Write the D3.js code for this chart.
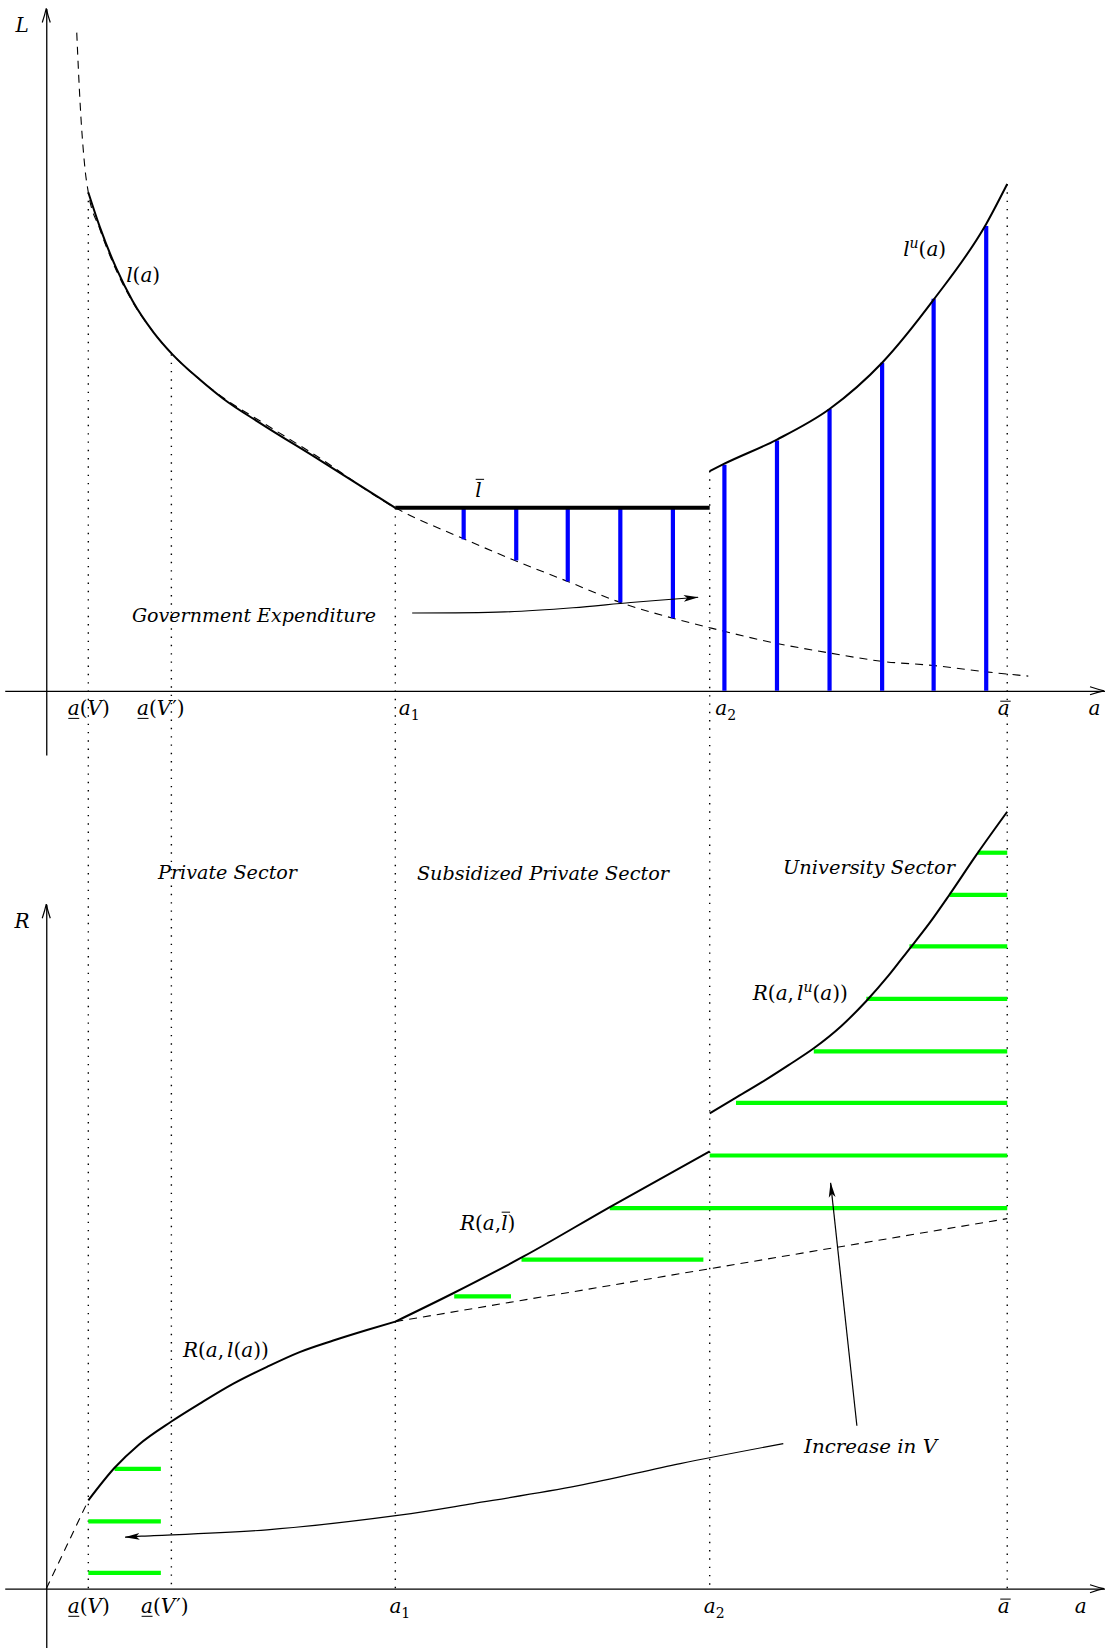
<!DOCTYPE html>
<html>
<head>
<meta charset="utf-8">
<script src="https://cdn.jsdelivr.net/npm/d3@7"></script>
<style>
body { margin: 0; background: #fff; }
svg { display: block; }
</style>
</head>
<body>
<div class="chart"></div>
<script>
// ---- data (a on the horizontal axis, L / R on the vertical axes) ----
var tickA = [0.40, 1.19, 3.32, 6.31, 9.14];       // a(V), a(V'), a1, a2, abar
var tickTopL = [4.74, 3.20, 1.74, 2.09, 4.82];    // where the dotted guides start in the top panel
var lBar = 1.74;

// l(a), dashed over its whole extent
var lDashA = [0.29, 0.31, 0.33, 0.35, 0.37, 0.40, 0.51, 0.67, 0.82, 1.02, 1.20, 1.46, 1.68, 2.06, 2.56, 3.32,
              3.96, 4.48, 4.96, 5.46, 5.96, 6.31, 6.95, 7.45, 7.95, 8.44, 8.94, 9.34];
var lDashL = [6.26, 5.82, 5.45, 5.17, 4.95, 4.74, 4.39, 3.99, 3.70, 3.41, 3.20, 2.96, 2.79, 2.55, 2.24, 1.74,
              1.45, 1.23, 1.04, 0.84, 0.69, 0.60, 0.45, 0.36, 0.28, 0.24, 0.18, 0.14];
// l(a), solid part (private sector)
var lSolidA = [0.40, 0.51, 0.67, 0.82, 1.02, 1.20, 1.46, 1.68, 2.06, 2.56, 3.32];
var lSolidL = [4.74, 4.41, 4.01, 3.71, 3.41, 3.20, 2.96, 2.78, 2.53, 2.22, 1.74];
// l^u(a)
var luA = [6.31, 6.45, 6.95, 7.45, 7.95, 8.44, 8.94, 9.14];
var luL = [2.09, 2.16, 2.39, 2.68, 3.12, 3.72, 4.44, 4.82];
// blue bars
var subsidyA = [3.97, 4.47, 4.96, 5.46, 5.96];
var subsidyLow = [1.44, 1.24, 1.04, 0.84, 0.69];
var univA = [6.45, 6.95, 7.45, 7.95, 8.44, 8.94];
var univTop = [2.15, 2.38, 2.68, 3.12, 3.73, 4.42];
// government expenditure arrow
var govArrowA = [3.48, 4.36, 5.01, 5.56, 6.20];
var govArrowL = [0.74, 0.75, 0.79, 0.84, 0.89];

// bottom panel: R
var rStartA = [0, 0.40];
var rStartR = [0, 0.84];
var rlA = [0.40, 0.65, 0.88, 1.19, 1.46, 1.78, 2.10, 2.41, 2.73, 3.05, 3.32];
var rlR = [0.84, 1.15, 1.37, 1.59, 1.76, 1.95, 2.11, 2.25, 2.36, 2.46, 2.54];
var rBarA = [3.32, 3.87, 4.54, 5.36, 6.31];
var rBarR = [2.54, 2.81, 3.16, 3.63, 4.16];
var rDashA = [3.32, 9.14];
var rDashR = [2.54, 3.52];
var ruA = [6.31, 6.56, 6.81, 7.06, 7.30, 7.56, 7.80, 8.01, 8.19, 8.40, 8.59, 8.84, 9.14];
var ruR = [4.52, 4.67, 4.82, 4.98, 5.14, 5.35, 5.59, 5.83, 6.06, 6.33, 6.60, 6.97, 7.39];
// green rungs
var greenR    = [0.15, 0.64, 1.14, 2.78, 3.13, 3.62, 4.12, 4.62, 5.11, 5.61, 6.11, 6.60, 7.00];
var greenFrom = [0.40, 0.40, 0.65, 3.88, 4.52, 5.36, 6.31, 6.56, 7.30, 7.80, 8.21, 8.59, 8.86];
var greenTo   = [1.09, 1.09, 1.09, 4.42, 6.25, 9.14, 9.14, 9.14, 9.14, 9.14, 9.14, 9.14, 9.14];
// "Increase in V" arrows
var incArrowA = [7.01, 6.03, 5.06, 4.06, 3.36, 2.10, 0.92, 0.75];
var incArrowR = [1.38, 1.19, 0.98, 0.81, 0.70, 0.56, 0.50, 0.49];
var incArrow2A = [7.71, 7.46];
var incArrow2R = [1.55, 3.86];

// ---- layout ----
var svgWidth = 1105, svgHeight = 1648;
var unit = 105.14;
var x = d3.scaleLinear().domain([0, 10]).range([46.26, 46.26 + 10 * unit]);
var yTop = d3.scaleLinear().domain([0, 6]).range([690.8, 690.8 - 6 * unit]);
var yBot = d3.scaleLinear().domain([0, 7]).range([1588.7, 1588.7 - 7 * unit]);

var svg = d3.select(".chart").append("svg")
    .attr("width", svgWidth)
    .attr("height", svgHeight);

var defs = svg.append("defs");
defs.append("marker")
    .attr("id", "head")
    .attr("viewBox", "0 0 15 8")
    .attr("refX", 14.5).attr("refY", 4)
    .attr("markerWidth", 15).attr("markerHeight", 8)
    .attr("markerUnits", "userSpaceOnUse")
    .attr("orient", "auto")
    .append("path")
    .attr("d", "M0,0.6 L15,4 L0,7.4 L3.5,4 Z")
    .attr("fill", "#000");

var FONT = "'DejaVu Serif', 'Liberation Serif', serif";
var MATH = 20;

function zip(a, b) { return a.map(function(v, i) { return [v, b[i]]; }); }

function lineFor(ys, curve) {
    return d3.line()
        .x(function(d) { return x(d[0]); })
        .y(function(d) { return ys(d[1]); })
        .curve(curve || d3.curveMonotoneX);
}

// small math typesetter: letters italic, _x subscript, ^x superscript, ~x underline, =x overline
function tex(g, str, px, py, anchor, size) {
    size = size || MATH;
    var t = g.append("text")
        .attr("x", px).attr("y", py)
        .attr("text-anchor", anchor || "start")
        .attr("fill", "#000")
        .style("font-family", FONT)
        .style("font-size", size + "px");
    var decos = [], idx = 0, shift = 0, i = 0;
    while (i < str.length) {
        var c = str[i], mode = null;
        if ("_^~=".indexOf(c) >= 0) { mode = c; i++; c = str[i]; }
        var ts = t.append("tspan").text(c);
        if (/[A-Za-z]/.test(c)) ts.style("font-style", "italic");
        var target = 0;
        if (mode === "_") { target = 0.28 * size; ts.style("font-size", (0.7 * size) + "px"); }
        if (mode === "^") { target = -0.4 * size; ts.style("font-size", (0.7 * size) + "px"); }
        if (target !== shift) { ts.attr("dy", target - shift); shift = target; }
        if (i > 0 && str[i - 1] === ",") ts.attr("dx", 3);
        if (c === "′") ts.attr("dx", 1);
        if (mode === "~" || mode === "=") decos.push({ idx: idx, mode: mode, ch: c });
        idx += 1;
        i++;
    }
    var node = t.node();
    decos.forEach(function(d) {
        var s = node.getStartPositionOfChar(d.idx), e = node.getEndPositionOfChar(d.idx);
        var yy, x0 = s.x, x1 = e.x;
        if (d.mode === "~") { yy = py + 0.18 * size; x0 += 0.5; x1 -= 0.5; }
        else {
            var tall = /[lbdhk]/.test(d.ch);
            yy = py - (tall ? 0.9 : 0.68) * size;
            x0 += tall ? 0.5 : 2.5; x1 += tall ? 2.5 : 1;
        }
        g.append("line")
            .attr("x1", x0).attr("x2", x1)
            .attr("y1", yy).attr("y2", yy)
            .attr("stroke", "#000").attr("stroke-width", 1);
    });
    return t;
}

function label(g, str, px, py, width) {
    return g.append("text")
        .attr("x", px).attr("y", py)
        .attr("text-anchor", "middle")
        .attr("textLength", width)
        .attr("lengthAdjust", "spacingAndGlyphs")
        .attr("fill", "#000")
        .style("font-family", FONT)
        .style("font-style", "italic")
        .style("font-size", "19px")
        .text(str);
}

function openHead(g, px, py, dx, dy) {
    var len = 14, w = 4;
    var nx = -dy, ny = dx;
    g.append("path")
        .attr("d", "M" + (px - dx * len + nx * w) + "," + (py - dy * len + ny * w) +
                   "Q" + (px - dx * len * 0.4 + nx * w * 0.3) + "," + (py - dy * len * 0.4 + ny * w * 0.3) +
                   " " + px + "," + py +
                   "Q" + (px - dx * len * 0.4 - nx * w * 0.3) + "," + (py - dy * len * 0.4 - ny * w * 0.3) +
                   " " + (px - dx * len - nx * w) + "," + (py - dy * len - ny * w))
        .attr("fill", "none").attr("stroke", "#000").attr("stroke-width", 1.2);
}

var chart = svg.append("g");

// ---- dotted guides through both panels ----
chart.append("g").selectAll("line")
    .data(zip(tickA, tickTopL))
    .enter().append("line")
    .attr("x1", function(d) { return x(d[0]); })
    .attr("x2", function(d) { return x(d[0]); })
    .attr("y1", function(d) { return yTop(d[1]); })
    .attr("y2", yBot(0))
    .attr("stroke", "#000")
    .attr("stroke-width", 1.4)
    .attr("stroke-dasharray", "1.4 6.9");

// ---- axes ----
var tickTex = ["~a(V)", "~a(V′)", "a_1", "a_2", "=a"];
function drawXAxis(ys, topPanel) {
    var axScale = x.copy().domain([-0.395, 10.07]).range([x(-0.395), x(10.07)]);
    var g = chart.append("g")
        .attr("transform", "translate(0," + ys(0) + ")")
        .call(d3.axisBottom(axScale).tickValues(tickA).tickSize(0).tickSizeOuter(0).tickFormat(""));
    g.select(".domain").attr("stroke", "#000").attr("stroke-width", 1.3);
    g.selectAll(".tick text").remove();
    var dx = topPanel ? [0, -11, 3, 5, -4] : [0, -7, 4, 4, -4];
    var anchors = topPanel ? ["middle", "middle", "start", "start", "middle"]
                           : ["middle", "middle", "middle", "middle", "middle"];
    g.selectAll(".tick").each(function(d, i) {
        tex(d3.select(this), tickTex[i], dx[i], 24, anchors[i]);
    });
    openHead(chart, axScale.range()[1] - 1, ys(0), 1, 0);
    tex(chart, "a", topPanel ? x(9.97) : x(9.84), ys(0) + 24, "middle");
}
function drawYAxis(ys, lo, hi, name) {
    var axScale = ys.copy().domain([lo, hi]).range([ys(lo), ys(hi)]);
    var g = chart.append("g")
        .attr("transform", "translate(" + x(0) + ",0)")
        .call(d3.axisLeft(axScale).tickValues([]).tickSizeOuter(0));
    g.select(".domain").attr("stroke", "#000").attr("stroke-width", 1.3);
    openHead(chart, x(0), ys(hi), 0, -1);
    tex(chart, name, x(-0.23), ys(hi) + 24, "middle");
}
drawXAxis(yTop, true);
drawYAxis(yTop, -0.61, 6.49, "L");
drawXAxis(yBot, false);
drawYAxis(yBot, -0.56, 6.51, "R");

// ---- top panel ----
var topG = chart.append("g");

topG.append("path")
    .attr("d", lineFor(yTop)(zip(lDashA, lDashL)))
    .attr("fill", "none").attr("stroke", "#000").attr("stroke-width", 1.1)
    .attr("stroke-dasharray", "8 6");

topG.selectAll(".sub")
    .data(zip(subsidyA, subsidyLow))
    .enter().append("line")
    .attr("class", "sub")
    .attr("x1", function(d) { return x(d[0]); })
    .attr("x2", function(d) { return x(d[0]); })
    .attr("y1", yTop(lBar))
    .attr("y2", function(d) { return yTop(d[1]); })
    .attr("stroke", "#0000ff").attr("stroke-width", 4.2);

topG.selectAll(".univ")
    .data(zip(univA, univTop))
    .enter().append("line")
    .attr("class", "univ")
    .attr("x1", function(d) { return x(d[0]); })
    .attr("x2", function(d) { return x(d[0]); })
    .attr("y1", yTop(0))
    .attr("y2", function(d) { return yTop(d[1]); })
    .attr("stroke", "#0000ff").attr("stroke-width", 4.2);

topG.append("path")
    .attr("d", lineFor(yTop)(zip(lSolidA, lSolidL)))
    .attr("fill", "none").attr("stroke", "#000").attr("stroke-width", 2);

topG.append("line")
    .attr("x1", x(tickA[2])).attr("x2", x(tickA[3]))
    .attr("y1", yTop(lBar)).attr("y2", yTop(lBar))
    .attr("stroke", "#000").attr("stroke-width", 4);

topG.append("path")
    .attr("d", lineFor(yTop)(zip(luA, luL)))
    .attr("fill", "none").attr("stroke", "#000").attr("stroke-width", 2);

topG.append("path")
    .attr("d", lineFor(yTop, d3.curveCatmullRom)(zip(govArrowA, govArrowL)))
    .attr("fill", "none").attr("stroke", "#000").attr("stroke-width", 1.2)
    .attr("marker-end", "url(#head)");

tex(topG, "l(a)", x(0.76), yTop(3.89), "start");
tex(topG, "l^u(a)", x(8.15), yTop(4.14), "start");
tex(topG, "=l", x(4.11), yTop(1.84), "middle");
label(topG, "Government Expenditure", x(1.975), yTop(0.655), 244);

// ---- sector labels ----
label(chart, "Private Sector", x(1.724), yBot(6.75), 139);
label(chart, "Subsidized Private Sector", x(4.724), yBot(6.74), 252);
label(chart, "University Sector", x(7.825), yBot(6.80), 172);

// ---- bottom panel ----
var botG = chart.append("g");

botG.append("path")
    .attr("d", lineFor(yBot)(zip(rStartA, rStartR)))
    .attr("fill", "none").attr("stroke", "#000").attr("stroke-width", 1.1)
    .attr("stroke-dasharray", "8 6");

botG.append("path")
    .attr("d", lineFor(yBot)(zip(rDashA, rDashR)))
    .attr("fill", "none").attr("stroke", "#000").attr("stroke-width", 1.1)
    .attr("stroke-dasharray", "8 6");

botG.selectAll(".rung")
    .data(greenR.map(function(r, i) { return { r: r, a0: greenFrom[i], a1: greenTo[i] }; }))
    .enter().append("line")
    .attr("class", "rung")
    .attr("x1", function(d) { return x(d.a0); })
    .attr("x2", function(d) { return x(d.a1); })
    .attr("y1", function(d) { return yBot(d.r); })
    .attr("y2", function(d) { return yBot(d.r); })
    .attr("stroke", "#00ff00").attr("stroke-width", 4.2);

[zip(rlA, rlR), zip(rBarA, rBarR), zip(ruA, ruR)].forEach(function(pts) {
    botG.append("path")
        .attr("d", lineFor(yBot)(pts))
        .attr("fill", "none").attr("stroke", "#000").attr("stroke-width", 2);
});

botG.append("path")
    .attr("d", lineFor(yBot, d3.curveCatmullRom)(zip(incArrowA, incArrowR)))
    .attr("fill", "none").attr("stroke", "#000").attr("stroke-width", 1.2)
    .attr("marker-end", "url(#head)");
botG.append("path")
    .attr("d", lineFor(yBot, d3.curveLinear)(zip(incArrow2A, incArrow2R)))
    .attr("fill", "none").attr("stroke", "#000").attr("stroke-width", 1.2)
    .attr("marker-end", "url(#head)");

tex(botG, "R(a,l(a))", x(1.30), yBot(2.20), "start");
tex(botG, "R(a,=l)", x(3.935), yBot(3.41), "start");
tex(botG, "R(a,l^u(a))", x(6.72), yBot(5.60), "start");
label(botG, "Increase in V", x(7.84), yBot(1.29), 133);
</script>
</body>
</html>
